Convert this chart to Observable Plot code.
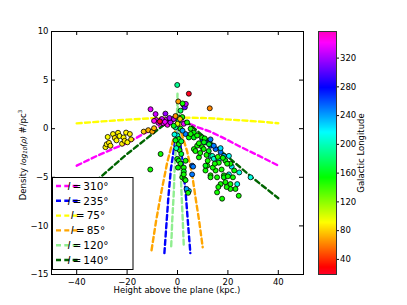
<!DOCTYPE html>
<html><head><meta charset="utf-8">
<script src="https://cdn.jsdelivr.net/npm/d3@7"></script>
<script src="https://cdn.jsdelivr.net/npm/@observablehq/plot@0.6"></script>
<style>
body{margin:0;background:#fff;}
#wrap{position:relative;width:407px;height:305px;font-family:"DejaVu Sans",sans-serif;}
#wrap svg{position:absolute;top:0;}
</style></head><body><div id="wrap"></div>
<script>
// ---------- data ----------
const xTicks = [-40, -20, 0, 20, 40];
const yTicks = [-15, -10, -5, 0, 5, 10];
const xDomain = [-50, 50];
const yDomain = [-15, 10];
const lonDomain = [19, 357];
const cbarTicks = [40, 80, 120, 160, 200, 240, 280, 320];

const seriesLabels = ["310", "235", "75", "85", "120", "140"];
const line310 = [[-40,-3.8],[-32,-2.8],[-25,-2.0],[-20,-1.5],[-13,-0.45],[-8,0.15],[-4,0.6],[0,0.95],[4,0.6],[8,0.15],[13,-0.3],[19,-1.05],[24.5,-1.8],[32,-2.75],[40,-3.8]];
const line235 = [[-5.2,-12.8],[-4.3,-9.5],[-3.6,-7],[-2.6,-4.1],[-1.3,-1.9],[0,0.8],[1.3,-1.9],[2.3,-4.2],[3.3,-6.8],[4.1,-9.5],[5.1,-12.8]];
const line75  = [[-40,0.55],[-30,0.75],[-20,0.93],[-10,1.08],[0,1.15],[10,1.1],[14.4,1.05],[21,0.93],[27.7,0.82],[34.2,0.7],[40,0.56]];
const line85  = [[-10.3,-12.5],[-8.5,-9.5],[-6.7,-6.9],[-5.4,-5.2],[-4.1,-3.5],[-3,-2.4],[-1.2,-0.7],[0,1.5],[1.5,-0.4],[3.8,-2.3],[5.8,-4.7],[7.1,-7.0],[8.6,-9.5],[10,-12.2]];
const line120 = [[-2.5,-12.1],[-2.1,-9.5],[-1.5,-6.7],[-1.1,-4],[-0.5,-1.2],[-0.2,1.5],[0,3.6],[0.25,1.5],[0.7,-1.2],[1.2,-4],[1.6,-6.7],[2.1,-9.5],[2.5,-12.1]];
const line140 = [[-40,-7.0],[-30,-4.85],[-20,-2.6],[-10,-0.55],[0,1.5],[10,-0.7],[20,-2.9],[30,-5.1],[40,-7.15]];

// points: [height (kpc), log10 density, galactic longitude]
const pointsFarLeft = [[-28.6,-1.9,88],[-28.1,-1.6,90],[-27.2,-1.45,86],[-27.7,-0.85,92],[-26.6,-1.75,88],[-25.6,-0.55,90],[-24.9,-0.95,85],[-23.6,-0.42,88],[-23.0,-0.75,92],[-22.0,-1.55,87],[-21.4,-0.9,90],[-21.0,-1.25,86],[-20.4,-0.4,89],[-19.9,-1.4,91],[-18.9,-0.55,88],[-18.4,-1.1,84],[-24.2,-1.2,90]];
const pointsNearLeft = [[-13.4,-0.3,78],[-11.6,-0.15,72],[-10.0,-0.3,70],[-9.3,0.05,75],[-10.8,-4.2,150],[-6.7,-2.6,150]];
const pointsMagenta = [[-10.7,2.0,335],[-8.7,1.5,330],[-4.8,1.55,315],[2.4,2.45,320],[2.9,2.2,305],[3.3,2.55,330],[-8.5,0.9,340],[-7.6,0.6,335],[-6.6,0.85,338],[-5.6,0.55,342],[-4.5,0.9,336],[-3.6,0.6,332],[-2.6,0.8,340],[-6.2,1.0,330],[-4.0,0.4,345],[-2.8,0.65,325],[2.5,0.5,335],[-7.0,0.75,20],[-5.0,0.7,338],[-1.5,1.0,328],[-9.3,0.8,345],[-3.2,1.1,320]];
const pointsSingles = [[4.5,3.6,22],[12.8,2.1,62],[-0.1,4.5,190],[-0.8,1.3,65],[0.3,2.8,68]];
const pointsCenter = [[1.2,1.85,175],[1.9,1.2,150],[0.5,0.8,205],[3.8,0.65,150],[-0.8,0.15,200],[1.2,0.0,160],[5.2,0.0,150],[6.5,-0.4,155],[3.2,-0.55,250],[4.5,-0.9,150],[6.5,-0.9,160],[7.8,-0.7,150],[-0.1,-0.7,210],[0.5,-1.06,150],[9.8,-1.06,255],[-1.2,-0.6,210],[5.2,-0.55,150],[-0.8,-1.2,160],[0.5,-1.6,150],[1.5,-1.3,170],[7.8,-1.75,150],[6.5,-2.1,150],[9.8,-1.9,150],[-0.1,-3.1,150],[0.5,-3.3,160],[1.2,-3.6,150],[0.2,-4.0,155],[5.8,-3.8,255],[5.8,-4.7,250],[2.5,-4.0,150],[2.5,-4.4,160],[1.9,-5.0,150],[2.8,-5.2,150],[4.5,-6.4,215],[2.5,-4.7,150],[3.2,-5.3,150],[3.6,-6.2,240],[4.2,-6.6,150],[3.2,-3.3,150],[6.2,-3.9,250],[0.8,-2.2,150],[1.5,-2.6,165],[-0.5,-2.0,200],[2.0,-0.2,240],[0.0,0.5,100],[-1.5,0.3,160],[1.0,1.0,80],[2.0,2.6,150]];
const pointsRight = [[11.1,-1.4,255],[13.1,-1.75,258],[15.1,-2.1,255],[17.1,-2.4,250],[18.4,-2.8,240],[14.4,-1.75,250],[13.1,-1.1,250],
  [13.1,-2.8,210],[16.4,-3.2,215],[20.4,-2.8,215],[20.4,-4.7,215],[23.7,-5.7,210],[29,-5.0,210],[21.5,-3.9,220],[17.1,-2.0,225],[24.5,-4.5,210],[13.8,-2.8,200],[14.4,-3.1,205],
  [9.8,-0.9,150],[8.5,-1.5,150],[10.4,-2.1,150],[7.1,-2.3,150],[12.4,-2.3,160],[8.5,-2.95,150],[11.8,-3.8,150],[11.1,-4.3,150],[15.1,-4.3,150],[13.1,-4.8,150],[15.7,-5.0,150],[18.4,-4.8,150],[19.0,-5.5,150],[21.0,-5.7,150],[23.0,-6.2,150],[24.3,-6.9,150],[15.7,-6.55,150],[17.7,-7.2,150],[19.0,-3.3,155],[21.0,-3.6,150],[16.4,-3.5,150],[19.7,-3.6,150],[11.1,-3.8,160],[13.1,-5.0,150],[18.4,-5.0,155],[17.1,-5.7,150],[21,-6.2,150],[12.0,-3.3,150],[16.0,-2.9,145],[14.0,-4.0,150],[17.5,-4.2,150],[20.0,-4.9,150],[16.2,-6.0,150],[22.0,-5.0,150],[12.5,-1.6,165],[10.8,-1.0,155],[9.0,-2.5,150],[14.8,-3.6,150],[19.5,-6.0,150],[22.5,-4.3,155],[18.0,-3.0,150],[11.5,-2.7,150],[10.5,-1.4,160]];

// ---------- styles ----------
const seriesLines = [line310, line235, line75, line85, line120, line140];
const seriesColors = ["#ff00ff", "#0000ff", "#ffff00", "#ffa500", "#90ee90", "#006400"];
const dash = "5,3.3";
const gistStops = [[0,[255,0,41]],[0.03,[255,0,0]],[0.215,[255,255,0]],[0.4,[0,255,0]],[0.586,[0,255,255]],[0.77,[0,0,255]],[0.954,[255,0,255]],[1,[255,0,191]]];
function gistRainbow(t) {
  t = Math.max(0, Math.min(1, t));
  for (let i = 1; i < gistStops.length; i++) {
    const [t1, c1] = gistStops[i];
    if (t <= t1) {
      const [t0, c0] = gistStops[i-1];
      const u = (t - t0) / (t1 - t0);
      const c = c0.map((v, k) => Math.round(v + (c1[k] - v) * u));
      return `rgb(${c[0]},${c[1]},${c[2]})`;
    }
  }
  return "rgb(255,0,191)";
}
const minus = d => d < 0 ? "\u2212" + (-d) : String(d);
const FS = 8.5;
const allPoints = [...pointsFarLeft, ...pointsNearLeft, ...pointsMagenta, ...pointsSingles, ...pointsCenter, ...pointsRight];

const W = 407, H = 305, ML = 51, MR = 104, MT = 31, MB = 31;
const innerW = W - ML - MR, innerH = H - MT - MB;

const main = Plot.plot({
  width: W, height: H, marginLeft: ML, marginRight: MR, marginTop: MT, marginBottom: MB,
  style: {fontFamily: "DejaVu Sans", fontSize: FS + "px", background: "transparent", color: "#000"},
  x: {domain: xDomain},
  y: {domain: yDomain},
  color: {type: "linear", domain: lonDomain, interpolate: gistRainbow},
  marks: [
    ...seriesLines.map((ln, i) => Plot.line(ln, {x: d => d[0], y: d => d[1], stroke: seriesColors[i], strokeWidth: 2.4, strokeDasharray: dash})),
    Plot.dot(allPoints, {x: d => d[0], y: d => d[1], fill: d => d[2], r: 2.5, stroke: "#000", strokeWidth: 0.8}),
    Plot.ruleX(xTicks, {x: d => d, insetTop: innerH - 4, stroke: "#000"}),
    Plot.ruleX(xTicks, {x: d => d, insetBottom: innerH - 4, stroke: "#000"}),
    Plot.ruleY(yTicks, {y: d => d, insetRight: innerW - 4, stroke: "#000"}),
    Plot.ruleY(yTicks, {y: d => d, insetLeft: innerW - 4, stroke: "#000"}),
    Plot.axisX({ticks: xTicks, tickSize: 0, tickPadding: 4, tickFormat: minus, label: null}),
    Plot.axisY({ticks: yTicks, tickSize: 0, tickPadding: 3, tickFormat: minus, label: null}),
    Plot.frame({stroke: "#000", strokeWidth: 1})
  ]
});

const s = d3.select(main);
// x label
s.append("text").attr("x", ML + innerW / 2).attr("y", 293).attr("text-anchor", "middle")
  .attr("font-size", FS).attr("font-family", "DejaVu Sans").attr("fill", "#000")
  .text("Height above the plane (kpc.)");
// y label
const yl = s.append("text").attr("transform", "translate(25.5,155) rotate(-90)").attr("text-anchor", "middle")
  .attr("font-size", FS).attr("font-family", "DejaVu Sans").attr("fill", "#000");
yl.append("tspan").text("Density ");
yl.append("tspan").attr("font-style", "italic").attr("font-size", 7.5).text("log");
yl.append("tspan").attr("font-style", "italic").attr("font-size", 5.5).attr("dy", 1.5).text("10");
yl.append("tspan").attr("font-style", "italic").attr("font-size", 7.5).attr("dy", -1.5).text("(\u03C1)");
yl.append("tspan").text(" #/pc");
yl.append("tspan").attr("font-size", 5.5).attr("dy", -3.5).text("3");

// legend
const leg = s.append("g");
leg.append("rect").attr("x", 52.5).attr("y", 177.5).attr("width", 80.5).attr("height", 92)
  .attr("fill", "white").attr("stroke", "#000").attr("stroke-width", 1);
seriesLabels.forEach((lab, i) => {
  const y = 186 + i * 14.8;
  leg.append("line").attr("x1", 56).attr("x2", 80).attr("y1", y).attr("y2", y)
    .attr("stroke", seriesColors[i]).attr("stroke-width", 2.4).attr("stroke-dasharray", dash);
  const t = leg.append("text").attr("x", 88).attr("y", y).attr("dy", "0.36em")
    .attr("font-size", 10.5).attr("font-family", "DejaVu Sans").attr("fill", "#000");
  t.append("tspan").attr("font-style", "italic").text("l");
  t.append("tspan").text("\u2009=\u2009" + lab + "\u00B0");
});

// colorbar
const cbar = Plot.plot({
  width: 102, height: H, marginLeft: 13, marginRight: 71, marginTop: MT, marginBottom: MB,
  style: {fontFamily: "DejaVu Sans", fontSize: FS + "px", background: "transparent", color: "#000"},
  x: {domain: [0, 1], axis: null},
  y: {domain: lonDomain, axis: null},
  color: {type: "linear", domain: lonDomain, interpolate: gistRainbow},
  marks: [
    Plot.raster({fill: (x, y) => y, x1: 0, x2: 1, y1: lonDomain[0], y2: lonDomain[1], width: 1, height: 340, imageRendering: "auto"}),
    Plot.frame({stroke: "#333", strokeWidth: 1}),
    Plot.axisY({anchor: "right", ticks: cbarTicks, tickSize: 2, tickPadding: 1.5, label: null}),
    Plot.text(["Galactic Longitude"], {frameAnchor: "right", dx: 25, rotate: -90, textAnchor: "middle", lineAnchor: "middle", fontSize: FS})
  ]
});

const wrap = document.getElementById("wrap");
main.style.left = "0px";
cbar.style.left = "305px";
wrap.appendChild(main);
wrap.appendChild(cbar);
</script></body></html>
